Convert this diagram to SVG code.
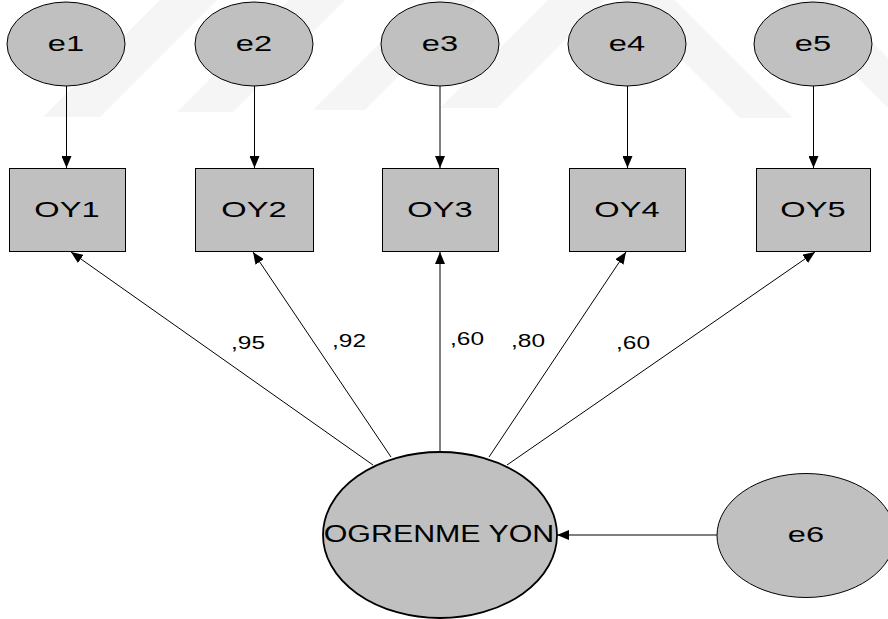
<svg xmlns="http://www.w3.org/2000/svg" width="888" height="619" viewBox="0 0 888 619">
  <style>
    .node { fill: #c0c0c0; stroke: #000; stroke-width: 1; }
    .big { fill: #c0c0c0; stroke: #000; stroke-width: 1.8; }
    .lbl { font-family: "Liberation Sans", Arial, sans-serif; fill: #000; }
    .edge { stroke: #000; stroke-width: 1; fill: none; marker-end: url(#arr); }
    .wm { fill: #f5f5f5; }
  </style>
  <defs>
    <marker id="arr" markerUnits="userSpaceOnUse" markerWidth="12" markerHeight="10" refX="12" refY="5" orient="auto">
      <path d="M0,0 L12,5 L0,10 z" fill="#000"/>
    </marker>
  </defs>

  <rect width="888" height="619" fill="#fff"/>

  <!-- faint background emblem -->
  <g id="emblem">
    <polygon class="wm" points="43,117 100,117 217,0 160,0"/>
    <polygon class="wm" points="177,112 233,112 345,0 289,0"/>
    <polygon class="wm" points="313,110 365,110 475,0 423,0"/>
    <polygon class="wm" points="440,108 497,108 605,0 548,0"/>
    <polygon class="wm" points="740,118 793,118 675,0 622,0"/>
    <polygon class="wm" points="780,0 830,0 888,58 888,108"/>
  </g>

  <!-- connectors -->
  <g id="connectors">
    <line class="edge" x1="66.5" y1="86" x2="66.5" y2="168"/>
    <line class="edge" x1="254.5" y1="86" x2="254.5" y2="168"/>
    <line class="edge" x1="440" y1="86" x2="440" y2="168"/>
    <line class="edge" x1="627.5" y1="86" x2="627.5" y2="168"/>
    <line class="edge" x1="813.5" y1="86" x2="813.5" y2="168"/>

    <line class="edge" x1="373" y1="465" x2="71" y2="252"/>
    <line class="edge" x1="391" y1="457" x2="253" y2="252"/>
    <line class="edge" x1="440" y1="452" x2="440" y2="252"/>
    <line class="edge" x1="489" y1="457" x2="626" y2="252"/>
    <line class="edge" x1="507" y1="465" x2="815" y2="252"/>

    <line class="edge" x1="717" y1="535" x2="557" y2="535"/>
  </g>

  <!-- loading labels -->
  <g id="loadings" class="lbl" font-size="17.5">
    <text transform="translate(231,349) scale(1.4,1)">,95</text>
    <text transform="translate(332,347) scale(1.4,1)">,92</text>
    <text transform="translate(450,345) scale(1.4,1)">,60</text>
    <text transform="translate(511,347) scale(1.4,1)">,80</text>
    <text transform="translate(616,349) scale(1.4,1)">,60</text>
  </g>

  <!-- error terms -->
  <g id="e1"><ellipse class="node" cx="66" cy="44" rx="59" ry="42"/>
    <text class="lbl" font-size="22.5" text-anchor="middle" transform="translate(66,51) scale(1.45,1)">e1</text></g>
  <g id="e2"><ellipse class="node" cx="254" cy="44" rx="59" ry="42"/>
    <text class="lbl" font-size="22.5" text-anchor="middle" transform="translate(254,51) scale(1.45,1)">e2</text></g>
  <g id="e3"><ellipse class="node" cx="440" cy="44" rx="59" ry="42"/>
    <text class="lbl" font-size="22.5" text-anchor="middle" transform="translate(440,51) scale(1.45,1)">e3</text></g>
  <g id="e4"><ellipse class="node" cx="627" cy="44" rx="59" ry="42"/>
    <text class="lbl" font-size="22.5" text-anchor="middle" transform="translate(627,51) scale(1.45,1)">e4</text></g>
  <g id="e5"><ellipse class="node" cx="813" cy="44" rx="59" ry="42"/>
    <text class="lbl" font-size="22.5" text-anchor="middle" transform="translate(813,51) scale(1.45,1)">e5</text></g>

  <!-- observed indicators -->
  <g id="OY1"><rect class="node" x="9.5" y="168.5" width="116" height="83"/>
    <text class="lbl" font-size="22.5" text-anchor="middle" transform="translate(67,217) scale(1.45,1)">OY1</text></g>
  <g id="OY2"><rect class="node" x="195.5" y="168.5" width="118" height="83"/>
    <text class="lbl" font-size="22.5" text-anchor="middle" transform="translate(254,217) scale(1.45,1)">OY2</text></g>
  <g id="OY3"><rect class="node" x="382.5" y="168.5" width="116" height="83"/>
    <text class="lbl" font-size="22.5" text-anchor="middle" transform="translate(440,217) scale(1.45,1)">OY3</text></g>
  <g id="OY4"><rect class="node" x="569.5" y="168.5" width="116" height="83"/>
    <text class="lbl" font-size="22.5" text-anchor="middle" transform="translate(627,217) scale(1.45,1)">OY4</text></g>
  <g id="OY5"><rect class="node" x="756.5" y="168.5" width="114" height="83"/>
    <text class="lbl" font-size="22.5" text-anchor="middle" transform="translate(813,217) scale(1.45,1)">OY5</text></g>

  <!-- latent factor -->
  <g id="OGRENME_YON"><ellipse class="big" cx="440" cy="535" rx="117" ry="83"/>
    <text class="lbl" font-size="24.5" text-anchor="middle" transform="translate(439,542) scale(1.24,1)">OGRENME YON</text></g>

  <!-- disturbance -->
  <g id="e6"><ellipse class="node" cx="806" cy="535.5" rx="89" ry="62"/>
    <text class="lbl" font-size="22.5" text-anchor="middle" transform="translate(806,542) scale(1.45,1)">e6</text></g>
</svg>
